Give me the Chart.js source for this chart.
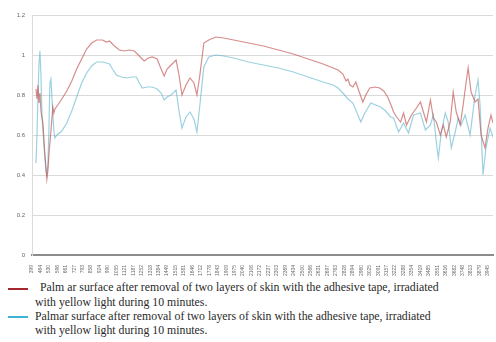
<!DOCTYPE html>
<html>
<head>
<meta charset="utf-8">
<script src="https://cdn.jsdelivr.net/npm/chart.js@4/dist/chart.umd.min.js"></script>
<style>
  html, body { margin: 0; padding: 0; background: #fff; }
  #wrap { position: relative; width: 496px; height: 342px; overflow: hidden; }
  #c { position: absolute; left: 0; top: 0; }
  .key { position: absolute; left: 8px; width: 20px; height: 2px; }
  .txt { position: absolute; font-family: "Liberation Serif", "Times New Roman", serif;
         font-size: 11.8px; line-height: 13px; color: #2a2a2a; white-space: nowrap; }
</style>
</head>
<body>
<div id="wrap">
  <canvas id="c" width="496" height="280"></canvas>
  <div class="key" style="top:288px;background:#a3282d"></div>
  <div class="txt" style="left:40px;top:281px">Palm ar surface after removal of two layers of skin with the adhesive tape, irradiated</div>
  <div class="txt" style="left:35px;top:296px">with yellow light during 10 minutes.</div>
  <div class="key" style="top:316px;background:#3fb3d3"></div>
  <div class="txt" style="left:35px;top:310px">Palmar surface after removal of two layers of skin with the adhesive tape, irradiated</div>
  <div class="txt" style="left:35px;top:324px">with yellow light during 10 minutes.</div>
</div>
<script>
// Wavenumber labels along the bottom axis (one per slot)
const tickLabels = [
  399, 464, 530, 596, 661, 727, 793, 858, 924, 990, 1055, 1121, 1187, 1252,
  1318, 1384, 1449, 1515, 1581, 1646, 1712, 1778, 1843, 1909, 1975, 2040,
  2106, 2172, 2237, 2303, 2369, 2434, 2500, 2566, 2631, 2697, 2763, 2828,
  2894, 2960, 3025, 3091, 3157, 3222, 3288, 3354, 3419, 3485, 3551, 3616,
  3682, 3748, 3813, 3879, 3945
];

// Series 1 (red): positions along the axis, in label slots, and values
const redPos = [
  0.47, 0.59, 0.71, 0.82, 0.94, 1.06, 1.29, 1.53, 1.65, 1.76, 1.88, 2.00, 2.24,
  2.47, 2.59, 2.71, 3.06, 3.53, 4.12, 4.71, 5.29, 5.88, 6.47, 7.06, 7.65, 8.35,
  8.82, 9.18, 9.76, 10.35, 10.94, 11.53, 12.12, 12.71, 13.29, 13.76, 14.24,
  14.82, 15.29, 15.65, 16.00, 16.47, 17.06, 17.41, 17.76, 18.24, 18.71, 19.18,
  19.53, 19.88, 20.35, 20.94, 21.76, 22.71, 23.88, 25.65, 27.41, 29.18, 30.94,
  32.71, 34.47, 35.65, 36.24, 36.82, 37.18, 37.41, 37.65, 38.00, 38.35, 38.71,
  39.18, 39.53, 40.00, 40.59, 41.18, 41.65, 42.12, 42.47, 42.82, 43.18, 43.65,
  44.00, 44.35, 44.94, 45.53, 46.00, 46.35, 46.71, 47.18, 47.53, 47.88, 48.35,
  48.71, 49.06, 49.53, 49.88, 50.24, 50.71, 51.06, 51.41, 51.65, 52.00, 52.47,
  52.82, 53.18, 53.65, 54.00, 54.35, 54.59
];
const redVals = [
  0.83, 0.78, 0.85, 0.76, 0.81, 0.72, 0.66, 0.50, 0.44, 0.38, 0.42, 0.50, 0.62,
  0.74, 0.71, 0.73, 0.75, 0.78, 0.82, 0.87, 0.93, 0.98, 1.03, 1.06, 1.075, 1.075,
  1.065, 1.07, 1.045, 1.025, 1.02, 1.025, 1.02, 0.995, 0.97, 0.985, 0.99,
  0.98, 0.93, 0.895, 0.93, 0.95, 0.975, 0.90, 0.80, 0.85, 0.885, 0.86,
  0.80, 0.90, 1.06, 1.075, 1.09, 1.085, 1.075, 1.06, 1.045, 1.025, 1.005,
  0.98, 0.955, 0.935, 0.925, 0.905, 0.87, 0.88, 0.85, 0.84, 0.865, 0.82,
  0.765, 0.80, 0.835, 0.84, 0.835, 0.82, 0.79, 0.755, 0.715, 0.69, 0.665,
  0.71, 0.65, 0.70, 0.735, 0.765, 0.715, 0.665, 0.775, 0.685, 0.665, 0.60,
  0.65, 0.59, 0.665, 0.815, 0.715, 0.65, 0.75, 0.865, 0.935, 0.815, 0.765,
  0.78, 0.60, 0.535, 0.635, 0.70, 0.66
];

// Series 2 (cyan): positions along the axis, in label slots, and values
const cyanPos = [
  0.47, 0.59, 0.71, 0.82, 0.94, 1.06, 1.18, 1.41, 1.65, 1.76, 1.88, 2.00, 2.12,
  2.24, 2.35, 2.47, 2.59, 2.71, 2.94, 3.53, 4.12, 4.71, 5.29, 5.88, 6.47, 7.06,
  7.65, 8.35, 8.82, 9.18, 9.53, 10.00, 10.59, 11.18, 11.76, 12.35, 12.71, 13.06,
  13.65, 14.24, 14.82, 15.29, 15.65, 16.00, 16.47, 17.06, 17.41, 17.76, 18.24,
  18.71, 19.18, 19.53, 19.88, 20.35, 20.94, 21.76, 22.71, 23.88, 25.65, 27.41,
  29.18, 30.94, 32.71, 34.47, 35.65, 36.24, 36.82, 37.41, 38.00, 38.59, 38.94,
  39.41, 40.12, 40.71, 41.29, 41.88, 42.47, 42.82, 43.41, 44.00, 44.59, 45.18,
  46.00, 46.59, 47.18, 47.53, 47.88, 48.12, 48.47, 48.94, 49.29, 49.65, 50.12,
  50.47, 50.82, 51.29, 51.88, 52.47, 52.82, 53.06, 53.41, 53.76, 54.24, 54.59
];
const cyanVals = [
  0.46, 0.60, 0.80, 0.95, 1.02, 0.90, 0.70, 0.55, 0.42, 0.40, 0.45, 0.62, 0.86,
  0.88, 0.80, 0.70, 0.62, 0.585, 0.60, 0.62, 0.66, 0.72, 0.79, 0.86, 0.91, 0.945,
  0.965, 0.965, 0.96, 0.955, 0.93, 0.90, 0.89, 0.885, 0.89, 0.89, 0.86, 0.835,
  0.84, 0.84, 0.83, 0.81, 0.775, 0.79, 0.80, 0.825, 0.72, 0.635, 0.69,
  0.715, 0.68, 0.615, 0.75, 0.94, 0.99, 1.00, 0.995, 0.985, 0.965, 0.95,
  0.935, 0.915, 0.89, 0.865, 0.85, 0.835, 0.81, 0.78, 0.76, 0.70, 0.665,
  0.71, 0.76, 0.75, 0.74, 0.72, 0.69, 0.685, 0.615, 0.66, 0.61, 0.70,
  0.71, 0.625, 0.65, 0.70, 0.565, 0.485, 0.615, 0.71, 0.665, 0.535, 0.615,
  0.685, 0.65, 0.70, 0.60, 0.80, 0.875, 0.75, 0.40, 0.535, 0.635, 0.59
];

const pairs = (xs, ys) => xs.map((x, i) => ({ x, y: ys[i] }));

new Chart(document.getElementById('c'), {
  type: 'line',
  data: {
    datasets: [
      {
        label: 'red',
        data: pairs(redPos, redVals),
        borderColor: 'rgba(192, 80, 77, 0.65)',
        borderWidth: 1.2,
        pointRadius: 0,
        tension: 0,
        fill: false
      },
      {
        label: 'cyan',
        data: pairs(cyanPos, cyanVals),
        borderColor: 'rgba(75, 172, 198, 0.55)',
        borderWidth: 1.2,
        pointRadius: 0,
        tension: 0,
        fill: false
      }
    ]
  },
  options: {
    responsive: false,
    animation: false,
    layout: { padding: { top: 15, left: 0, right: 0, bottom: 0 } },
    plugins: { legend: { display: false }, tooltip: { enabled: false } },
    scales: {
      x: {
        type: 'linear',
        min: 0,
        max: 54.6,
        grid: { display: false },
        border: { color: '#8c8c8c', width: 2 },
        afterFit: (s) => { s.height = 25; },
        ticks: {
          stepSize: 1,
          includeBounds: false,
          autoSkip: false,
          minRotation: 90,
          maxRotation: 90,
          padding: 2,
          color: '#6a6a6a',
          font: { family: 'Liberation Sans', size: 5 },
          callback: (v) => Number.isInteger(v) && tickLabels[v] !== undefined ? String(tickLabels[v]) : ''
        }
      },
      y: {
        min: 0,
        max: 1.2,
        afterFit: (s) => { s.width = 32; },
        grid: { color: '#dadada', lineWidth: 1, drawTicks: false },
        border: { color: '#dadada' },
        ticks: {
          stepSize: 0.2,
          padding: 7,
          color: '#666',
          font: { family: 'Liberation Sans', size: 6 },
          callback: (v) => String(Math.round(v * 10) / 10)
        }
      }
    }
  }
});
</script>
</body>
</html>
